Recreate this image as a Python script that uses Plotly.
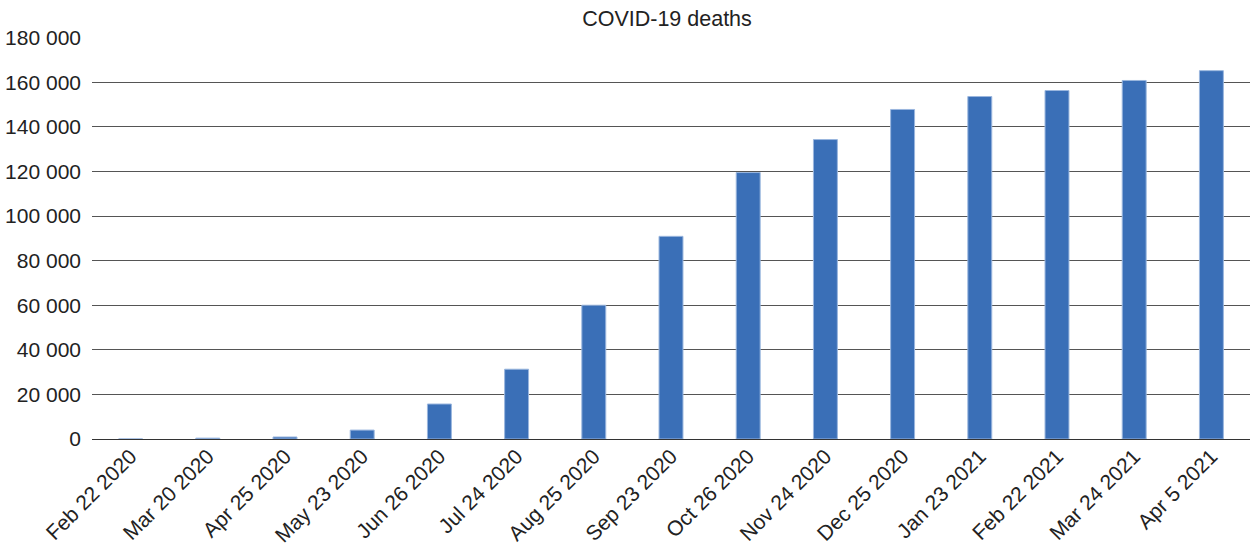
import plotly.graph_objects as go

dates = ["Feb 22 2020", "Mar 20 2020", "Apr 25 2020", "May 23 2020", "Jun 26 2020",
         "Jul 24 2020", "Aug 25 2020", "Sep 23 2020", "Oct 26 2020", "Nov 24 2020",
         "Dec 25 2020", "Jan 23 2021", "Feb 22 2021", "Mar 24 2021", "Apr 5 2021"]
deaths = [30, 400, 900, 4000, 15700, 31300, 60000, 90900, 119500, 134300,
          147800, 153600, 156300, 160800, 165200]
y_ticks = [0, 20000, 40000, 60000, 80000, 100000, 120000, 140000, 160000, 180000]

fig = go.Figure(go.Bar(
    x=dates, y=deaths,
    marker=dict(color="#3a6fb7", line=dict(color="#9ab6de", width=1)),
))

font = "Liberation Sans, Arial, sans-serif"
fig.update_layout(
    width=1250, height=544,
    margin=dict(l=92, r=0, t=37, b=105, autoexpand=False),
    paper_bgcolor="white", plot_bgcolor="white",
    separators=". ",
    title=dict(text="COVID-19 deaths", x=667 / 1250, xref="container", xanchor="center",
               y=1, yref="paper", yanchor="bottom", pad=dict(b=11),
               font=dict(family=font, size=21.5, color="#222")),
    bargap=0.69,
    showlegend=False,
    font=dict(family=font, color="#222"),
)
fig.update_xaxes(tickangle=-45, tickfont=dict(size=21, family=font, color="#222"),
                 showgrid=False, showline=False, ticks="", automargin=False)
fig.update_yaxes(range=[0, 180300], tickvals=y_ticks, tickformat=",d",
                 tickfont=dict(size=21, family=font, color="#222"),
                 showgrid=True, gridcolor="#555", gridwidth=1,
                 zeroline=True, zerolinecolor="#333", zerolinewidth=1,
                 ticks="", ticklabelstandoff=10, automargin=False)

fig.write_html("out.html", config={"displayModeBar": False},
               post_script="document.body.style.margin='0';")
